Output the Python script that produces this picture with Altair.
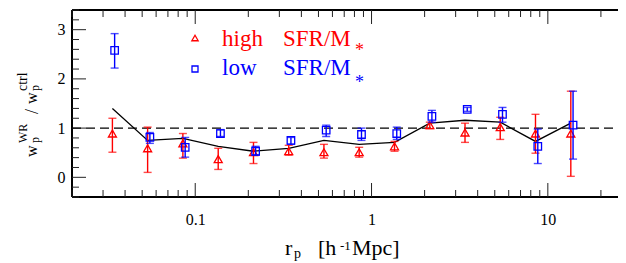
import altair as alt
import pandas as pd

# ---- data ----
r_high = [0.0339, 0.0537, 0.0851, 0.135, 0.214, 0.339, 0.537, 0.851, 1.35, 2.14, 3.39, 5.37, 8.51, 13.5]
w_high = [0.89, 0.59, 0.69, 0.37, 0.51, 0.53, 0.51, 0.51, 0.63, 1.06, 0.91, 1.02, 0.89, 0.89]
w_high_lo = [0.51, 0.10, 0.39, 0.16, 0.28, 0.45, 0.39, 0.41, 0.53, 0.99, 0.71, 0.77, 0.49, 0.02]
w_high_hi = [1.20, 1.02, 0.89, 0.59, 0.71, 0.65, 0.67, 0.61, 0.73, 1.12, 1.10, 1.22, 1.28, 1.75]

r_low = [0.0349, 0.0553, 0.0877, 0.139, 0.220, 0.349, 0.553, 0.877, 1.39, 2.20, 3.49, 5.53, 8.77, 13.9]
w_low = [2.58, 0.81, 0.61, 0.89, 0.53, 0.75, 0.96, 0.87, 0.89, 1.24, 1.38, 1.28, 0.63, 1.06]
w_low_lo = [2.22, 0.69, 0.41, 0.83, 0.45, 0.67, 0.83, 0.75, 0.77, 1.12, 1.34, 1.12, 0.28, 0.37]
w_low_hi = [2.92, 0.91, 0.81, 0.97, 0.63, 0.81, 1.06, 1.00, 1.02, 1.36, 1.42, 1.42, 0.98, 1.75]

r_line = r_high
w_line = [1.40, 0.75, 0.79, 0.63, 0.53, 0.59, 0.75, 0.67, 0.71, 1.10, 1.16, 1.12, 0.73, 1.10]

x_major = [0.1, 1, 10]
x_minor = [0.02, 0.03, 0.04, 0.05, 0.06, 0.07, 0.08, 0.09,
           0.2, 0.3, 0.4, 0.5, 0.6, 0.7, 0.8, 0.9,
           2, 3, 4, 5, 6, 7, 8, 9, 20]
y_major = [0, 1, 2, 3]
y_minor = [-0.4, -0.2, 0.2, 0.4, 0.6, 0.8, 1.2, 1.4, 1.6, 1.8,
           2.2, 2.4, 2.6, 2.8, 3.2, 3.4]

# ---- layout ----
W, H = 546, 187
RED, BLUE = "#ff0000", "#0000ff"
FONT = "Liberation Serif"

xs = alt.Scale(type="log", domain=[0.02, 25.0])
ys = alt.Scale(domain=[-0.4, 3.4], zero=False, nice=False)
xaxis = alt.Axis(values=x_major, format="~g", title=None, labelPadding=14, labelOverlap=False)
yaxis = alt.Axis(values=y_major, title=None, labelPadding=7, labelOverlap=False)


def X(f="r"):
    return alt.X(f + ":Q", scale=xs, axis=xaxis)


def Y(f="w"):
    return alt.Y(f + ":Q", scale=ys, axis=yaxis)


def one():
    return alt.Chart(pd.DataFrame({"a": [0]}))


layers = []

# frame (right side lies beyond the picture edge in the reference)
layers.append(one().mark_rule(color="black", strokeWidth=2).encode(
    x=alt.value(0), x2=alt.value(W), y=alt.value(0)))
layers.append(one().mark_rule(color="black", strokeWidth=2).encode(
    x=alt.value(0), x2=alt.value(W), y=alt.value(H)))
layers.append(one().mark_rule(color="black", strokeWidth=2).encode(
    x=alt.value(0), y=alt.value(0), y2=alt.value(H)))

# inward ticks
dxM = pd.DataFrame({"v": x_major})
dxm = pd.DataFrame({"v": x_minor})
dyM = pd.DataFrame({"v": y_major})
dym = pd.DataFrame({"v": y_minor})
tk = dict(color="#222222", strokeWidth=1)
layers.append(alt.Chart(dxM).mark_rule(**tk).encode(x=X("v"), y=alt.value(H), y2=alt.value(H - 14)))
layers.append(alt.Chart(dxM).mark_rule(**tk).encode(x=X("v"), y=alt.value(0), y2=alt.value(14)))
layers.append(alt.Chart(dxm).mark_rule(**tk).encode(x=X("v"), y=alt.value(H), y2=alt.value(H - 7)))
layers.append(alt.Chart(dxm).mark_rule(**tk).encode(x=X("v"), y=alt.value(0), y2=alt.value(7)))
layers.append(alt.Chart(dyM).mark_rule(**tk).encode(y=Y("v"), x=alt.value(0), x2=alt.value(14)))
layers.append(alt.Chart(dym).mark_rule(**tk).encode(y=Y("v"), x=alt.value(0), x2=alt.value(7)))

# dashed reference line at 1
layers.append(alt.Chart(pd.DataFrame({"v": [1]})).mark_rule(
    color="black", strokeWidth=1.4, strokeDash=[9, 5]).encode(
    y=Y("v"), x=alt.value(0), x2=alt.value(W)))

# solid line
dline = pd.DataFrame({"r": r_line, "w": w_line})
layers.append(alt.Chart(dline).mark_line(color="black", strokeWidth=1.3).encode(x=X(), y=Y()))

# series
dh = pd.DataFrame({"r": r_high, "w": w_high, "lo": w_high_lo, "hi": w_high_hi})
dl = pd.DataFrame({"r": r_low, "w": w_low, "lo": w_low_lo, "hi": w_low_hi})
for d, col, shape, size in [(dh, RED, "triangle-up", 64), (dl, BLUE, "square", 56)]:
    layers.append(alt.Chart(d).mark_rule(color=col, strokeWidth=1.4).encode(
        x=X(), y=Y("lo"), y2="hi:Q"))
    for f in ["lo", "hi"]:
        layers.append(alt.Chart(d).mark_tick(color=col, orient="horizontal", size=8, thickness=1.4).encode(
            x=X(), y=Y(f)))
    layers.append(alt.Chart(d).mark_point(shape=shape, filled=False, color=col, size=size,
                                          strokeWidth=1.3, opacity=1).encode(x=X(), y=Y()))


def txt(s, x, y, size, color="black", angle=0):
    return alt.Chart(pd.DataFrame({"s": [s]})).mark_text(
        font=FONT, fontSize=size, color=color, angle=angle,
        align="left", baseline="alphabetic").encode(
        text="s:N", x=alt.value(x), y=alt.value(y))


# legend
layers.append(one().mark_point(shape="triangle-up", filled=False, color=RED, size=40,
                               strokeWidth=1.3, opacity=1).encode(x=alt.value(123), y=alt.value(28)))
layers.append(one().mark_point(shape="square", filled=False, color=BLUE, size=36,
                               strokeWidth=1.3, opacity=1).encode(x=alt.value(123), y=alt.value(59)))
layers += [
    txt("high", 150, 36, 23, RED), txt("SFR/M", 211, 36, 23, RED), txt("*", 283, 46, 18, RED),
    txt("low", 150, 65, 23, BLUE), txt("SFR/M", 211, 65, 23, BLUE), txt("*", 283, 78, 18, BLUE),
]

# x title: r_p [h^-1 Mpc]
layers += [
    txt("r", 213, 245, 22), txt("p", 222, 248, 14), txt("[h", 246, 245, 22),
    txt("-1", 268, 240, 13), txt("Mpc]", 280, 245, 22),
]

# y title: w_p^WR / w_p^ctrl (rotated)
layers += [
    txt("w", -35, 147, 16, angle=270), txt("p", -33, 133, 12, angle=270),
    txt("WR", -45, 133, 12, angle=270), txt("/", -34, 104, 18, angle=270),
    txt("w", -35, 94, 16, angle=270), txt("p", -33, 81, 12, angle=270),
    txt("ctrl", -45, 81, 14, angle=270),
]

chart = alt.layer(*layers).properties(
    width=W, height=H,
    autosize=alt.AutoSizeParams(type="none"),
    padding={"left": 64, "top": 2, "right": 0, "bottom": 66},
).configure_view(stroke=None).configure_axis(
    domain=False, ticks=False, grid=False, labelFont=FONT, labelFontSize=16,
    labelColor="black",
)

chart.save("out.html", embed_options={"renderer": "svg", "actions": False})
